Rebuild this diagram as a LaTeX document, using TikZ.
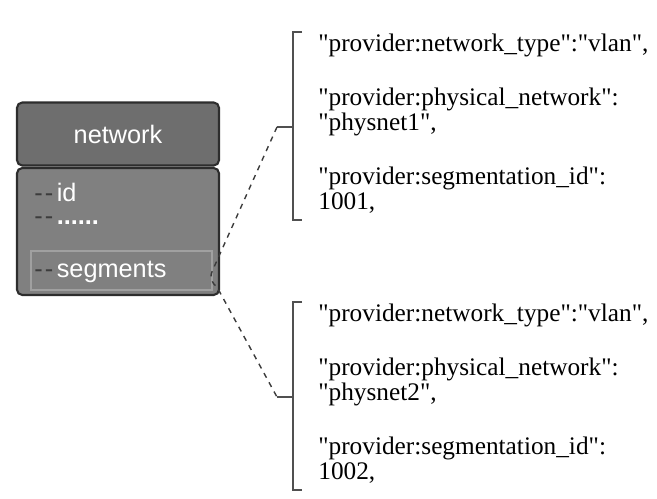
\documentclass[tikz,border=0pt]{standalone}
\usepackage{fontspec}
\newfontfamily\boxfont{Liberation Sans}
\newfontfamily\jsonfont{Liberation Serif}
\definecolor{headgray}{RGB}{110,110,110}
\definecolor{bodygray}{RGB}{128,128,128}
\definecolor{edgegray}{RGB}{45,45,45}
\definecolor{dashgray}{RGB}{60,60,60}
\definecolor{seggray}{RGB}{160,160,160}
\definecolor{bracegray}{RGB}{80,80,80}
\newcommand{\twodash}{\textcolor{dashgray}{-\kern1.2pt-}\kern2pt}

\begin{document}
\begin{tikzpicture}[x = 0.02cm, y = -0.02cm,
	entity/.style = {draw = edgegray, line width = 1.2pt, rounded corners = 3pt, minimum width = 4.04cm},
	field/.style = {anchor = west, inner sep = 0pt, text = white, font = \boxfont\fontsize{14.4}{14.4}\selectfont},
	json/.style = {anchor = west, inner sep = 0pt, align = left, font = \jsonfont\fontsize{14.4}{14.5}\selectfont},
	brace/.style = {draw = bracegray, line width = 1pt},
	link/.style = {draw = dashgray, dashed, line width = 0.8pt}]
	\useasboundingbox (0,0) rectangle (657,499);
	% the network entity
	\node[entity, fill = headgray, minimum height = 1.26cm, text = white, font = \boxfont\fontsize{14.4}{14.4}\selectfont] (head) at (118,134) {network};
	\node[entity, fill = bodygray, minimum height = 2.54cm] (body) at (118,231.5) {};
	\node[draw = seggray, line width = 0.6pt, minimum width = 3.62cm, minimum height = 0.78cm] (seg) at (121.5,270.5) {};
	\node[field] (id) at (34,192) {\twodash id};
	\node[field] (more) at (34,221) {\twodash\textbf{......}};
	\node[field] (segs) at (34,272) {\twodash segments};
	% segment 1
	\node[json] (seg1) at (318,124) {"provider:network\_type":"vlan",\\[16pt]
		"provider:physical\_network":\\
		"physnet1",\\[16pt]
		"provider:segmentation\_id":\\
		1001,};
	\draw[brace] (302,32) -- (293,32) -- (293,220) -- (302,220);
	\draw[brace] (293,127) -- (277,127) coordinate (tip1);
	% segment 2
	\node[json] (seg2) at (318,394) {"provider:network\_type":"vlan",\\[16pt]
		"provider:physical\_network":\\
		"physnet2",\\[16pt]
		"provider:segmentation\_id":\\
		1002,};
	\draw[brace] (302,302) -- (293,302) -- (293,490) -- (302,490);
	\draw[brace] (293,397) -- (277,397) coordinate (tip2);
	% links
	\coordinate (kink) at (217,287);
	\draw[link] (tip1) -- (seg.east) .. controls (209,278) and (212,283) .. (kink) -- (tip2);
\end{tikzpicture}
\end{document}
